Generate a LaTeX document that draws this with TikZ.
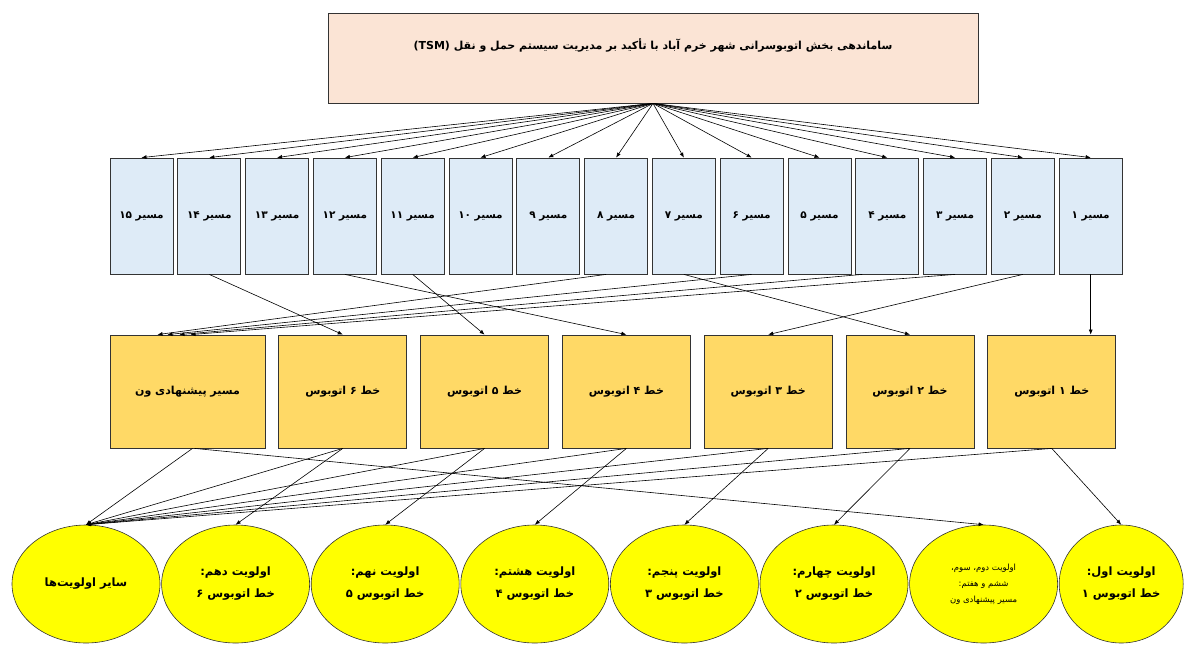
\documentclass[tikz,border=0pt]{standalone}
\usepackage{fontspec}
\newfontfamily\fa[Script=Arabic]{DejaVu Sans}
\TeXXeTstate=1
\usetikzlibrary{arrows.meta, positioning, shapes.geometric}
\definecolor{headfill}{HTML}{FBE4D5}
\definecolor{routefill}{HTML}{DEEBF7}
\definecolor{busfill}{HTML}{FFD966}
\definecolor{priofill}{HTML}{FFFF00}
\newcommand{\rtl}[1]{\beginR #1\endR}
\tikzset{%
    headbox/.style = {draw=black!80, rectangle, thick, fill=headfill,
        minimum width=650pt, minimum height=90pt, text depth=28pt,
        font=\fa\bfseries\fontsize{11}{13}\selectfont},
    route/.style = {draw=black!80, rectangle, thick, fill=routefill,
        minimum width=63pt, minimum height=116pt, inner sep=0pt,
        font=\fa\bfseries\fontsize{10.5}{12}\selectfont},
    busline/.style = {draw=black!80, rectangle, thick, fill=busfill,
        minimum width=128pt, minimum height=113pt, inner sep=0pt,
        font=\fa\bfseries\fontsize{11}{13}\selectfont},
    prio/.style = {draw=black!80, ellipse, fill=priofill,
        minimum width=148pt, minimum height=118pt, inner sep=0pt, align=center,
        font=\fa\bfseries\fontsize{11.5}{22}\selectfont}
}

\begin{document}
\begin{tikzpicture}[x=1pt, y=-1pt, >={Latex[length=5pt,width=4pt]}, semithick]
    \useasboundingbox (0,0) rectangle (1187,646);
    % title
    \node [headbox] (head) at (653,58) {\rtl{ساماندهی بخش اتوبوسرانی شهر خرم آباد با تأکید بر مدیریت سیستم حمل و نقل \beginL(TSM)\endL}};
    % routes
    \node [route] (r15) at (141.5,216) {\rtl{مسیر ۱۵}};
    \node [route, right=4pt of r15] (r14) {\rtl{مسیر ۱۴}};
    \node [route, right=4pt of r14] (r13) {\rtl{مسیر ۱۳}};
    \node [route, right=4pt of r13] (r12) {\rtl{مسیر ۱۲}};
    \node [route, right=4pt of r12] (r11) {\rtl{مسیر ۱۱}};
    \node [route, right=4pt of r11] (r10) {\rtl{مسیر ۱۰}};
    \node [route, right=4pt of r10] (r9) {\rtl{مسیر ۹}};
    \node [route, right=4pt of r9] (r8) {\rtl{مسیر ۸}};
    \node [route, right=4pt of r8] (r7) {\rtl{مسیر ۷}};
    \node [route, right=4pt of r7] (r6) {\rtl{مسیر ۶}};
    \node [route, right=4pt of r6] (r5) {\rtl{مسیر ۵}};
    \node [route, right=4pt of r5] (r4) {\rtl{مسیر ۴}};
    \node [route, right=4pt of r4] (r3) {\rtl{مسیر ۳}};
    \node [route, right=4pt of r3] (r2) {\rtl{مسیر ۲}};
    \node [route, right=4pt of r2] (r1) {\rtl{مسیر ۱}};
    % bus lines
    \node [busline, minimum width=155pt] (van) at (187.5,391.5) {\rtl{مسیر پیشنهادی ون}};
    \node [busline, right=13pt of van] (b6) {\rtl{خط ۶ اتوبوس}};
    \node [busline, right=13pt of b6] (b5) {\rtl{خط ۵ اتوبوس}};
    \node [busline, right=13pt of b5] (b4) {\rtl{خط ۴ اتوبوس}};
    \node [busline, right=13pt of b4] (b3) {\rtl{خط ۳ اتوبوس}};
    \node [busline, right=13pt of b3] (b2) {\rtl{خط ۲ اتوبوس}};
    \node [busline, right=13pt of b2] (b1) {\rtl{خط ۱ اتوبوس}};
    % priorities
    \node [prio] (rest) at (86,584) {\rtl{سایر اولویت‌ها}};
    \node [prio, right=1pt of rest] (p10) {\rtl{اولویت دهم:}\\\rtl{خط اتوبوس ۶}};
    \node [prio, right=1pt of p10] (p9) {\rtl{اولویت نهم:}\\\rtl{خط اتوبوس ۵}};
    \node [prio, right=1pt of p9] (p8) {\rtl{اولویت هشتم:}\\\rtl{خط اتوبوس ۴}};
    \node [prio, right=1pt of p8] (p5) {\rtl{اولویت پنجم:}\\\rtl{خط اتوبوس ۳}};
    \node [prio, right=1pt of p5] (p4) {\rtl{اولویت چهارم:}\\\rtl{خط اتوبوس ۲}};
    \node [prio, right=1pt of p4, font=\fa\fontsize{8.5}{16}\selectfont] (p2) {\rtl{اولویت دوم، سوم،}\\\rtl{ششم و هفتم:}\\\rtl{مسیر پیشنهادی ون}};
    \node [prio, right=1pt of p2, minimum width=124pt] (p1) {\rtl{اولویت اول:}\\\rtl{خط اتوبوس ۱}};
    \path[->]
    (head.south) edge (r1.north) (head.south) edge (r2.north) (head.south) edge (r3.north)
    (head.south) edge (r4.north) (head.south) edge (r5.north) (head.south) edge (r6.north)
    (head.south) edge (r7.north) (head.south) edge (r8.north) (head.south) edge (r9.north)
    (head.south) edge (r10.north) (head.south) edge (r11.north) (head.south) edge (r12.north)
    (head.south) edge (r13.north) (head.south) edge (r14.north) (head.south) edge (r15.north);
    \path[->]
    (r1.south) edge (r1.south |- b1.north) (r2.south) edge (b3.north) (r7.south) edge (b2.north)
    (r12.south) edge (b4.north) (r11.south) edge (b5.north) (r14.south) edge (b6.north)
    ([xshift=-10pt]r8.south) edge ([xshift=-30pt]van.north) (r6.south) edge ([xshift=-20pt]van.north)
    ([xshift=-25pt]r4.south) edge ([xshift=-8pt]van.north) (r3.south) edge ([xshift=3pt]van.north);
    \path[->]
    ([xshift=5pt]van.south) edge (rest.north) ([xshift=7pt]van.south) edge (p2.north)
    (b6.south) edge (rest.north) (b6.south) edge (p10.north)
    (b5.south) edge (rest.north) (b5.south) edge (p9.north)
    (b4.south) edge (rest.north) (b4.south) edge (p8.north)
    (b3.south) edge (rest.north) (b3.south) edge (p5.north)
    (b2.south) edge (rest.north) (b2.south) edge (p4.north)
    (b1.south) edge (rest.north) (b1.south) edge (p1.north);
\end{tikzpicture}
\end{document}
